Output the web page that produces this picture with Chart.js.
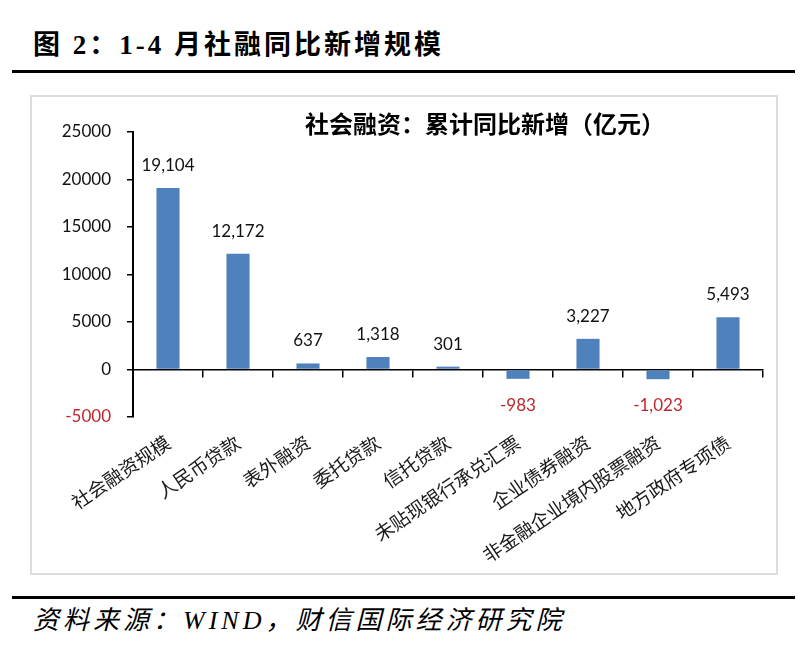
<!DOCTYPE html>
<html>
<head>
<meta charset="utf-8">
<script src="https://cdn.jsdelivr.net/npm/chart.js@4.4.1/dist/chart.umd.min.js"></script>
<style>
body { margin: 0; background: #fff; width: 807px; height: 658px; position: relative; overflow: hidden; }
#figTitle { position: absolute; left: 33px; top: 32px; font: bold 27px/27px "Liberation Serif", "Noto Sans CJK SC", serif; letter-spacing: 3px; color: #000; white-space: nowrap; }
.rule { position: absolute; left: 12px; width: 783px; height: 3px; background: #000; }
#box { position: absolute; left: 30px; top: 95px; width: 744px; height: 476px; border: 2px solid #dcdcdc; }
#chartTitle { position: absolute; left: 305px; top: 111px; font: bold 24px/24px "Noto Sans CJK SC", sans-serif; color: #000; white-space: nowrap; }
#source { position: absolute; left: 33px; top: 608px; font: italic 26px/26px "Liberation Serif", "Noto Sans CJK SC", serif; letter-spacing: 4px; color: #000; white-space: nowrap; }
</style>
</head>
<body>
<div id="figTitle">图 2：1-4 月社融同比新增规模</div>
<div class="rule" style="top:70px"></div>
<div id="box"><canvas id="container" width="744" height="476"></canvas></div>
<div id="chartTitle">社会融资：累计同比新增（亿元）</div>
<div class="rule" style="top:596px"></div>
<div id="source">资料来源：WIND，财信国际经济研究院</div>

<script>
var categories = ["社会融资规模", "人民币贷款", "表外融资", "委托贷款", "信托贷款", "未贴现银行承兑汇票", "企业债券融资", "非金融企业境内股票融资", "地方政府专项债"];
var values = [19104, 12172, 637, 1318, 301, -983, 3227, -1023, 5493];
var yTicks = [-5000, 0, 5000, 10000, 15000, 20000, 25000];

var red = "#C0272D";

// value labels above / below each bar
var valueLabels = {
    id: "valueLabels",
    afterDatasetsDraw: function(chart)
    {
        var ctx = chart.ctx;
        var meta = chart.getDatasetMeta(0);
        ctx.save();
        ctx.font = "17px Lato";
        ctx.textAlign = "center";
        meta.data.forEach(function(bar, i)
        {
            var v = values[i];
            var txt = v.toLocaleString("en-US");
            if(v >= 0)
            {
                ctx.fillStyle = "#111";
                ctx.textBaseline = "bottom";
                ctx.fillText(txt, bar.x, bar.y - 14);
            }
            else
            {
                ctx.fillStyle = red;
                ctx.textBaseline = "top";
                ctx.fillText(txt, bar.x, bar.y + 18);
            }
        });
        ctx.restore();
    }
};

var container = document.getElementById("container").getContext("2d");
var mychart = new Chart(container, {
    type: 'bar',
    data: {
        labels: categories,
        datasets: [{ label: "社会融资", data: values, backgroundColor: "#4F81BD", categoryPercentage: 1, barPercentage: 0.33, xAxisID: "x" }],
    },
    options: {
        responsive: false,
        animation: false,
        layout: { padding: { left: 0, right: 13, top: 35, bottom: 0 } },
        plugins: { legend: { display: false }, title: { display: false }, tooltip: { enabled: false } },
        scales: {
            x: {
                position: "bottom",
                offset: true,
                grid: { display: false },
                border: { display: false },
                ticks: {
                    autoSkip: false, minRotation: 34, maxRotation: 34, padding: 6,
                    color: "#1a1a1a", font: { family: "Noto Sans CJK SC", size: 19 },
                },
                afterFit: function(scale) { scale.height = 156; scale.paddingLeft = 0; scale.paddingRight = 0; },
            },
            // zero line with the category tick marks
            x2: {
                type: "category",
                position: { y: 0 },
                offset: true,
                grid: { display: true, offset: true, drawOnChartArea: false, drawTicks: true, tickLength: 7, color: "#000", lineWidth: 1.5 },
                border: { display: true, color: "#000", width: 1.5 },
                ticks: { display: false },
                afterFit: function(scale) { scale.height = 0; scale.paddingLeft = 0; scale.paddingRight = 0; },
            },
            y: {
                min: -5000, max: 25000,
                afterBuildTicks: function(scale) { scale.ticks = yTicks.map(function(v) { return { value: v }; }); },
                grid: { display: true, drawOnChartArea: false, drawTicks: true, tickLength: 6, color: "#000", lineWidth: 1.5 },
                border: { display: true, color: "#000", width: 2 },
                ticks: {
                    padding: 16,
                    font: { family: "Lato", size: 17 },
                    color: function(c) { return c.tick.value < 0 ? red : "#111"; },
                    callback: function(v) { return String(v); },
                },
                afterFit: function(scale) { scale.width = 101; },
            },
        },
    },
    plugins: [valueLabels],
});
</script>
</body>
</html>
